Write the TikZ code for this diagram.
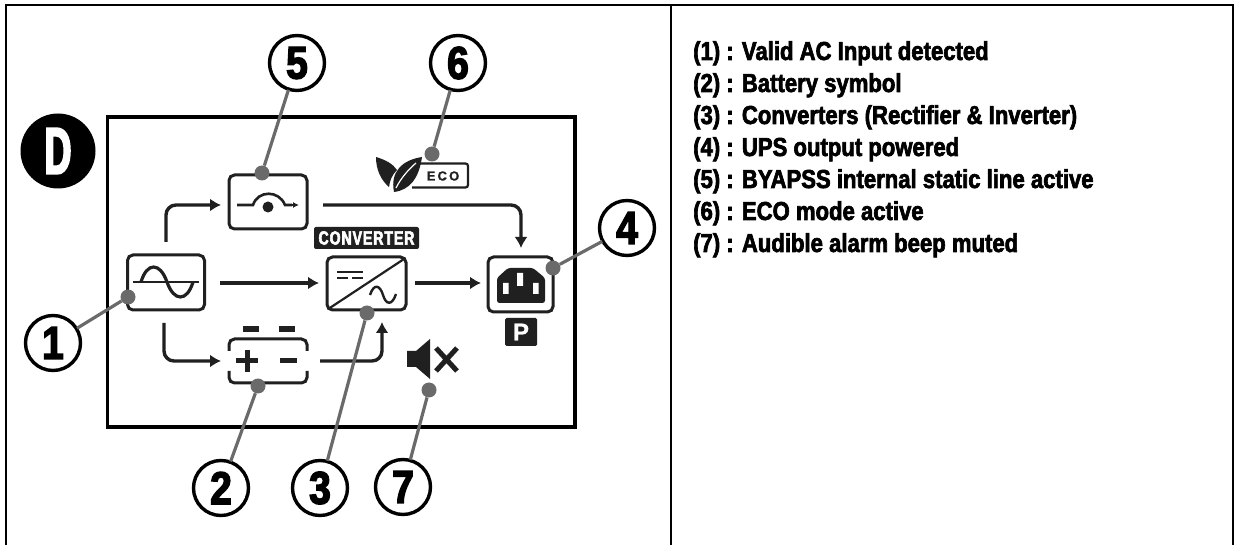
\documentclass[tikz,border=0pt]{standalone}
\usepackage{fontspec}
\setmainfont{Liberation Sans}
\newfontfamily\nar[FakeStretch=0.85,FakeBold=2.5]{Liberation Sans Bold}
\newfontfamily\numf[FakeStretch=0.85,FakeBold=3]{Liberation Sans Bold}
\newfontfamily\narx[FakeStretch=0.56,FakeBold=3]{Liberation Sans Bold}
\newfontfamily\convf[FakeStretch=0.74,FakeBold=3,LetterSpace=5]{Liberation Sans Bold}
\newfontfamily\plain[FakeBold=1]{Liberation Sans Bold}
\definecolor{ink}{HTML}{202020}
\definecolor{pin}{HTML}{6A6A6A}
\tikzset{
  frameline/.style={draw=black,line width=2.6pt},
  iconbox/.style={draw=ink,line width=3pt,rounded corners=5.5pt},
  flow/.style={draw=ink,line width=3.4pt,rounded corners=10pt,-{Latex[length=11pt,width=13pt]}},
  numcirc/.style={circle,draw=black,line width=3.4pt,fill=white,minimum size=55pt,inner sep=0pt,font=\numf\fontsize{46}{46}\selectfont},
  pinball/.style={circle,fill=pin,minimum size=15pt,inner sep=0pt},
  leader/.style={draw=pin,line width=3.2pt,shorten <=-1pt},
  legend/.style={anchor=base west,inner sep=0pt,font=\nar\fontsize{26}{26}\selectfont},
}
\usetikzlibrary{arrows.meta}
\begin{document}
\begin{tikzpicture}[x=1pt,y=-1pt]
\useasboundingbox (0,0) rectangle (1235,545);
\fill[white] (0,0) rectangle (1235,545);
% outer table
\draw[frameline] (6,545) -- (6,5) -- (1233,5) -- (1233,545);
\draw[frameline] (671,5) -- (671,545);
% screen
\draw[draw=black,line width=3.6pt] (107.5,117) rectangle (575,427);
% D badge
\node[circle,fill=black,minimum size=75pt,inner sep=0pt,text=white,font=\narx\fontsize{66}{66}\selectfont] (badge) at (58,151) {D};
% AC box
\node[iconbox,minimum width=77pt,minimum height=55pt,inner sep=0pt] (ac) at (166,282.5) {};
\draw[ink,line width=2.4pt] (133,282) -- (199,282);
\draw[ink,line width=3.2pt] (141,282) .. controls (147,262) and (160,262) .. (167,282) .. controls (174,302) and (187,302) .. (193,282);
% bypass box
\node[iconbox,minimum width=78pt,minimum height=54pt,inner sep=0pt] (byp) at (268,202) {};
\draw[ink,line width=2.6pt] (237,205) -- (253,205) .. controls (258,190) and (279,190) .. (285,205) -- (292,205);
\draw[ink,line width=1.6pt,-{Latex[length=6pt,width=6pt]}] (290,205) -- (299,205);
\fill[ink] (268,207) circle (5.5);
% converter label and box
\node[fill=ink,rounded corners=2pt,minimum width=105pt,minimum height=22pt,inner sep=0pt,text=white,font=\convf\fontsize{19}{19}\selectfont] (convlabel) at (366.5,238) {CONVERTER};
\node[iconbox,minimum width=79pt,minimum height=53pt,inner sep=0pt] (conv) at (366.5,283.5) {};
\draw[ink,line width=2.2pt] (329,308.5) -- (404,259);
\draw[ink,line width=2.6pt] (337,272) -- (363,272);
\draw[ink,line width=2.6pt] (337,278) -- (348,278) (352,278) -- (363,278);
\draw[ink,line width=2.4pt] (370,295) .. controls (374,283) and (380,285) .. (383,295) .. controls (386,305) and (392,306) .. (396,294);
% battery
\coordinate (batt) at (268,361);
\draw[iconbox] (229,351) -- (229,339) -- (307,339) -- (307,351);
\draw[iconbox] (229,371) -- (229,383) -- (307,383) -- (307,371);
\draw[ink,line width=5.5pt] (243,329) -- (259,329) (279,329) -- (295,329);
\draw[ink,line width=5pt] (236,361) -- (258,361) (247,350) -- (247,372) (280,361) -- (297,361);
% socket
\node[iconbox,minimum width=65pt,minimum height=55pt,inner sep=0pt] (sock) at (520.5,284.5) {};
\fill[ink,rounded corners=2.5pt] (497,278) -- (508,268) -- (533,268) -- (545,278) -- (545,303) -- (497,303) -- cycle;
\fill[white] (517,273) rectangle (523,286) (503,283) rectangle (508.5,294) (533,283) rectangle (538.5,294);
% P
\node[fill=ink,rounded corners=1.5pt,minimum width=32pt,minimum height=28pt,inner sep=0pt,text=white,font=\plain\fontsize{24}{24}\selectfont] (plabel) at (521,332) {P};
% mute
\fill[ink] (407,351) -- (416,351) -- (430,339) -- (430,379) -- (416,367) -- (407,367) -- cycle;
\draw[ink,line width=5pt] (436,348) -- (457,371) (457,348) -- (436,371);
% eco
\fill[ink] (394,192) .. controls (390,172) and (402,160) .. (422,157) .. controls (419,178) and (410,190) .. (394,192) -- cycle;
\draw[white,line width=1.2pt] (396,188) .. controls (401,178) and (408,170) .. (416,163);
\fill[ink] (376,157) .. controls (386,160) and (393,164) .. (397,170) .. controls (392,175) and (390,180) .. (389,187) .. controls (381,180) and (376,170) .. (376,157) -- cycle;
\draw[ink,line width=2.2pt,rounded corners=2.5pt] (420,163.5) -- (468,163.5) -- (468,187.5) -- (412,187.5);
\node[inner sep=0pt,font=\plain\fontsize{13}{13}\selectfont,text=ink] (ecotxt) at (443,176) {E\,C\,O};
% flows
\coordinate (f1a) at (166,242); \coordinate (f1b) at (166,205); \coordinate (f1c) at (221,205);
\draw[flow] (f1a) -- (f1b) -- (f1c);
\coordinate (f2a) at (323,205); \coordinate (f2b) at (521,205); \coordinate (f2c) at (521,248);
\draw[flow] (f2a) -- (f2b) -- (f2c);
\coordinate (f3a) at (220,283); \coordinate (f3b) at (319,283);
\draw[flow] (f3a) -- (f3b);
\coordinate (f4a) at (415,283); \coordinate (f4b) at (481,283);
\draw[flow] (f4a) -- (f4b);
\coordinate (f5a) at (164,323); \coordinate (f5b) at (164,361); \coordinate (f5c) at (221,361);
\draw[flow] (f5a) -- (f5b) -- (f5c);
\coordinate (f6a) at (320,361); \coordinate (f6b) at (382,361); \coordinate (f6c) at (382,322);
\draw[flow] (f6a) -- (f6b) -- (f6c);
% numbered callouts
\node[numcirc] (c1) at (53,343) {1};
\node[numcirc] (c2) at (221,488) {2};
\node[numcirc] (c3) at (320,488) {3};
\node[numcirc] (c4) at (627,228) {4};
\node[numcirc] (c5) at (297,63) {5};
\node[numcirc] (c6) at (458,63) {6};
\node[numcirc] (c7) at (403,487) {7};
\node[pinball] (p1) at (128,297) {};
\node[pinball] (p2) at (258,386) {};
\node[pinball] (p3) at (367,313) {};
\node[pinball] (p4) at (553,268) {};
\node[pinball] (p5) at (262,173) {};
\node[pinball] (p6) at (432,154) {};
\node[pinball] (p7) at (429,390) {};
\foreach \k in {1,...,7}{\draw[leader] (c\k) -- (p\k);}
% legend
\node[legend] (l1) at (693,60) {(1) : Valid AC Input detected};
\node[legend] (l2) at (693,92) {(2) : Battery symbol};
\node[legend] (l3) at (693,124) {(3) : Converters (Rectifier \& Inverter)};
\node[legend] (l4) at (693,156) {(4) : UPS output powered};
\node[legend] (l5) at (693,188) {(5) : BYAPSS internal static line active};
\node[legend] (l6) at (693,220) {(6) : ECO mode active};
\node[legend] (l7) at (693,252) {(7) : Audible alarm beep muted};
\end{tikzpicture}
\end{document}
